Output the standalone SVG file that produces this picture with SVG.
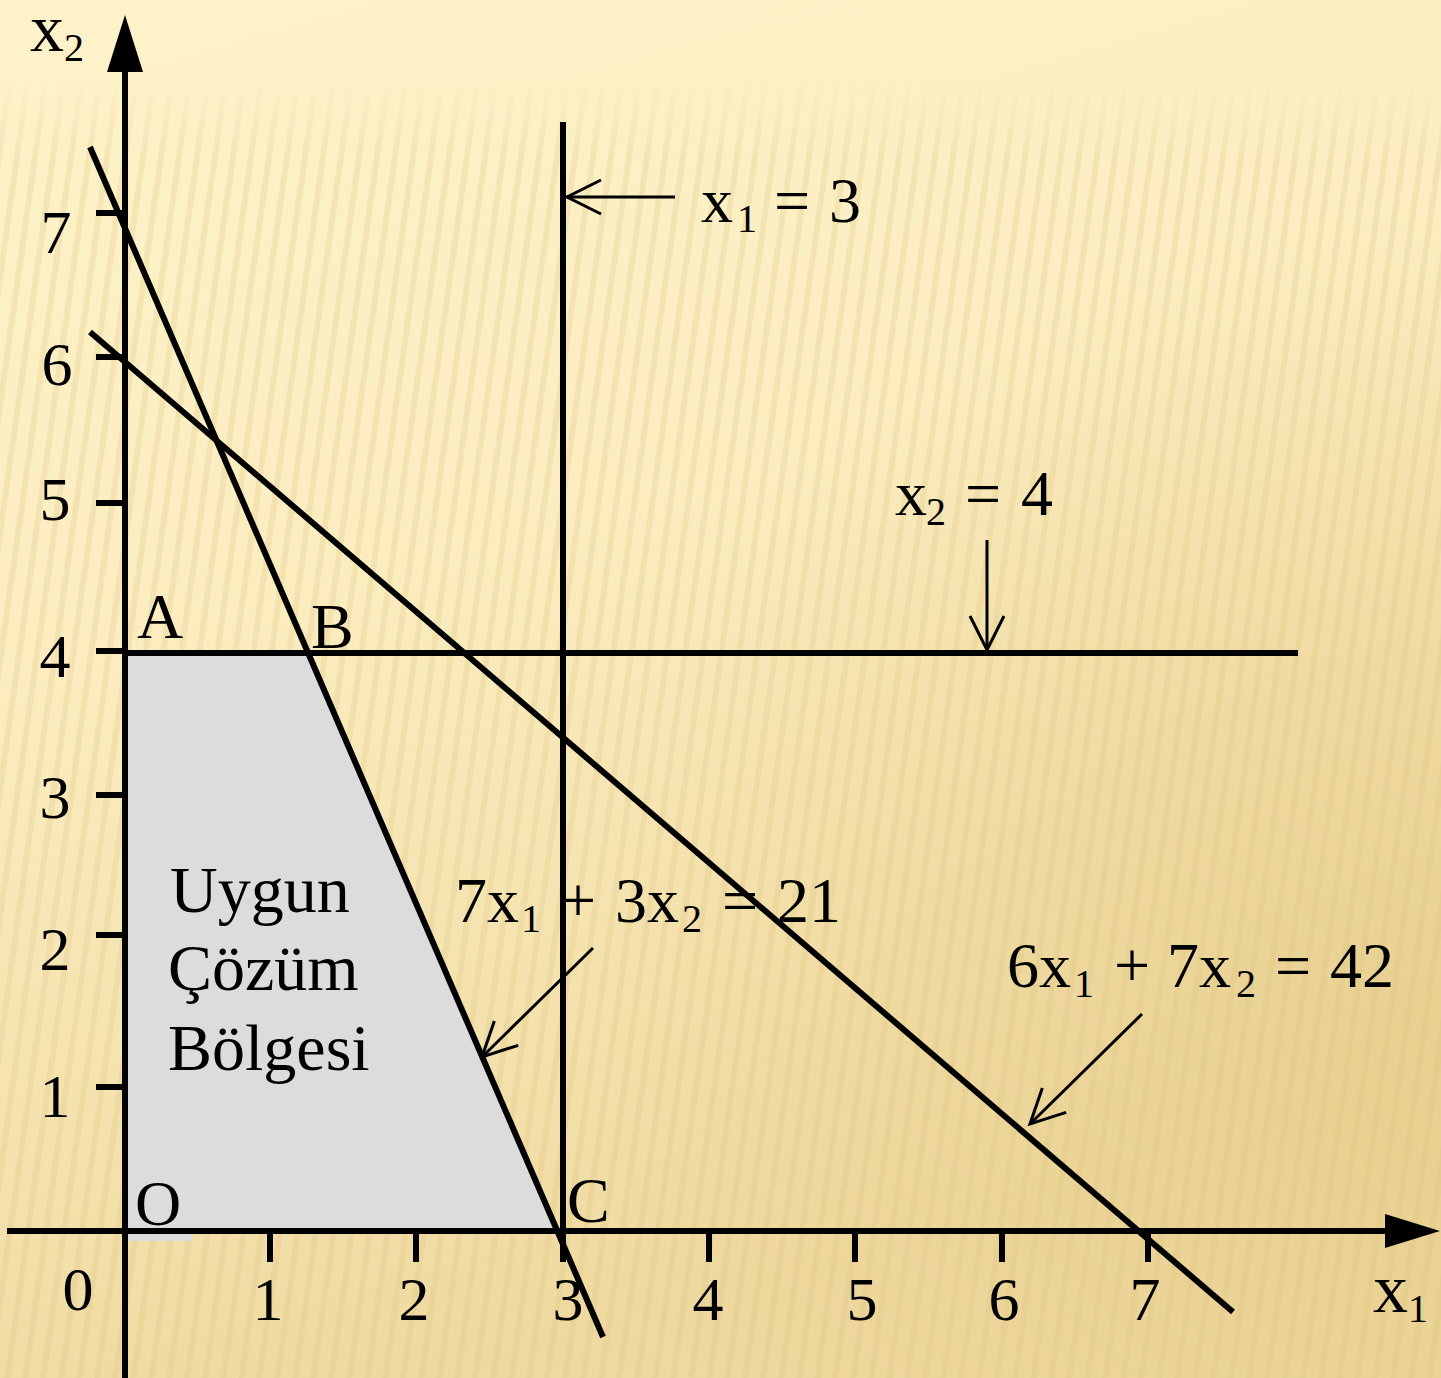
<svg xmlns="http://www.w3.org/2000/svg" width="1441" height="1378" viewBox="0 0 1441 1378">
<defs>
  <linearGradient id="bg" x1="0" y1="0" x2="0.3" y2="1">
    <stop offset="0" stop-color="#FDF2C9"/>
    <stop offset="0.45" stop-color="#FBEDC0"/>
    <stop offset="1" stop-color="#EFD9A0"/>
  </linearGradient>
  <radialGradient id="shade" cx="1" cy="0.75" r="0.6">
    <stop offset="0" stop-color="#E3C985" stop-opacity="0.6"/>
    <stop offset="1" stop-color="#E3C985" stop-opacity="0"/>
  </radialGradient>
  <linearGradient id="fade" x1="0" y1="0" x2="0" y2="1">
    <stop offset="0" stop-color="#fff" stop-opacity="0"/>
    <stop offset="0.06" stop-color="#fff" stop-opacity="1"/>
    <stop offset="1" stop-color="#fff" stop-opacity="1"/>
  </linearGradient>
  <mask id="stripeMask" maskUnits="userSpaceOnUse" x="0" y="0" width="1441" height="1378">
    <rect x="0" y="80" width="1441" height="1298" fill="url(#fade)"/>
  </mask>
  <pattern id="stripes" width="18" height="40" patternUnits="userSpaceOnUse" patternTransform="skewX(-8)">
    <rect x="0" y="0" width="6" height="40" fill="#D9BE78" opacity="0.22"/>
  </pattern>
  <marker id="open" viewBox="-38 -20 42 40" refX="0" refY="0" markerWidth="42" markerHeight="40" markerUnits="userSpaceOnUse" orient="auto">
    <path d="M-34,-17 L0,0 L-34,17" fill="none" stroke="#000" stroke-width="3"/>
  </marker>
  <style>
    .ax { stroke:#000; stroke-width:6; fill:none; }
    .cl { stroke:#000; stroke-width:6; fill:none; }
    .tk { stroke:#000; stroke-width:6; }
    .ann { stroke:#000; stroke-width:3; fill:none; marker-end:url(#open); }
    text { font-family:"Liberation Serif","Times New Roman",serif; fill:#000; }
    .num { font-size:62px; text-anchor:middle; }
    .lbl { font-size:64px; }
    .reg { font-size:66px; }
    .sub { font-size:40px; }
  </style>
</defs>

<g id="background">
  <rect x="0" y="0" width="1441" height="1378" fill="url(#bg)"/>
  <rect x="0" y="0" width="1441" height="1378" fill="url(#shade)"/>
  <rect x="0" y="80" width="1441" height="1298" fill="url(#stripes)" mask="url(#stripeMask)"/>
</g>

<g id="feasible-region">
  <polygon points="128,656 310,656 557,1228 128,1228" fill="#DCDCDC"/>
  <rect x="128" y="1233" width="64" height="8" fill="#DCDCDC"/>
</g>

<g id="axes">
  <line class="ax" x1="125" y1="60" x2="125" y2="1378"/>
  <polygon points="125,15 107,72 143,72" fill="#000"/>
  <line class="ax" x1="7" y1="1231" x2="1390" y2="1231"/>
  <polygon points="1440,1231 1385,1214 1385,1248" fill="#000"/>
  <g id="x-ticks">
    <line class="tk" x1="270" y1="1231" x2="270" y2="1262"/>
    <line class="tk" x1="416" y1="1231" x2="416" y2="1262"/>
    <line class="tk" x1="563" y1="1231" x2="563" y2="1262"/>
    <line class="tk" x1="709" y1="1231" x2="709" y2="1262"/>
    <line class="tk" x1="855" y1="1231" x2="855" y2="1262"/>
    <line class="tk" x1="1002" y1="1231" x2="1002" y2="1262"/>
    <line class="tk" x1="1148" y1="1231" x2="1148" y2="1262"/>
  </g>
  <g id="y-ticks">
    <line class="tk" x1="96" y1="213" x2="125" y2="213"/>
    <line class="tk" x1="96" y1="357" x2="125" y2="357"/>
    <line class="tk" x1="96" y1="503" x2="125" y2="503"/>
    <line class="tk" x1="96" y1="651" x2="125" y2="651"/>
    <line class="tk" x1="96" y1="795" x2="125" y2="795"/>
    <line class="tk" x1="96" y1="935" x2="125" y2="935"/>
    <line class="tk" x1="96" y1="1087" x2="125" y2="1087"/>
  </g>
  <g id="axis-labels">
    <text x="30" y="51" style="font-size:68px">x<tspan class="sub" dy="10">2</tspan></text>
    <text x="1373" y="1312" style="font-size:70px">x<tspan class="sub" dy="10">1</tspan></text>
    <text class="num" x="56" y="253">7</text>
    <text class="num" x="57" y="385">6</text>
    <text class="num" x="55" y="520">5</text>
    <text class="num" x="55" y="677">4</text>
    <text class="num" x="55" y="818">3</text>
    <text class="num" x="55" y="970">2</text>
    <text class="num" x="55" y="1117">1</text>
    <text class="num" x="78" y="1310">0</text>
    <text class="num" x="268" y="1320">1</text>
    <text class="num" x="414" y="1320">2</text>
    <text class="num" x="568" y="1320">3</text>
    <text class="num" x="708" y="1320">4</text>
    <text class="num" x="862" y="1320">5</text>
    <text class="num" x="1004" y="1320">6</text>
    <text class="num" x="1145" y="1320">7</text>
  </g>
</g>

<g id="constraint-x1-3">
  <line class="cl" x1="563" y1="122" x2="563" y2="1262"/>
</g>
<g id="constraint-x2-4">
  <line class="cl" x1="125" y1="653" x2="1298" y2="653"/>
</g>
<g id="constraint-7x1-3x2-21">
  <line class="cl" x1="90" y1="147" x2="603" y2="1337"/>
</g>
<g id="constraint-6x1-7x2-42">
  <line class="cl" x1="90" y1="332" x2="1233" y2="1312"/>
</g>

<g id="point-labels">
  <text class="lbl" x="137" y="638">A</text>
  <text class="lbl" x="311" y="648">B</text>
  <text class="lbl" x="567" y="1222">C</text>
  <text class="lbl" x="135" y="1225">O</text>
</g>

<g id="region-label">
  <text class="reg" x="170" y="912">Uygun</text>
  <text class="reg" x="168" y="990">Çözüm</text>
  <text class="reg" x="168" y="1070">Bölgesi</text>
</g>

<g id="equation-labels">
  <text class="lbl" y="222"><tspan x="701">x</tspan><tspan class="sub" x="737" dy="10">1</tspan><tspan x="774" dy="-10">=</tspan><tspan x="829">3</tspan></text>
  <text class="lbl" y="515"><tspan x="895">x</tspan><tspan class="sub" x="926" dy="10">2</tspan><tspan x="965" dy="-10">=</tspan><tspan x="1021">4</tspan></text>
  <text class="lbl" y="922"><tspan x="455">7x</tspan><tspan class="sub" x="521" dy="10">1</tspan><tspan x="560" dy="-10">+</tspan><tspan x="615">3x</tspan><tspan class="sub" x="682" dy="10">2</tspan><tspan x="722" dy="-10">=</tspan><tspan x="777">21</tspan></text>
  <text class="lbl" y="987"><tspan x="1007">6x</tspan><tspan class="sub" x="1074" dy="10">1</tspan><tspan x="1114" dy="-10">+</tspan><tspan x="1167">7x</tspan><tspan class="sub" x="1236" dy="10">2</tspan><tspan x="1275" dy="-10">=</tspan><tspan x="1330">42</tspan></text>
</g>

<g id="connectors">
  <line class="ann" x1="675" y1="197" x2="567" y2="197"/>
  <line class="ann" x1="987" y1="540" x2="987" y2="650"/>
  <line class="ann" x1="593" y1="948" x2="482" y2="1057"/>
  <line class="ann" x1="1142" y1="1014" x2="1030" y2="1124"/>
</g>
</svg>
